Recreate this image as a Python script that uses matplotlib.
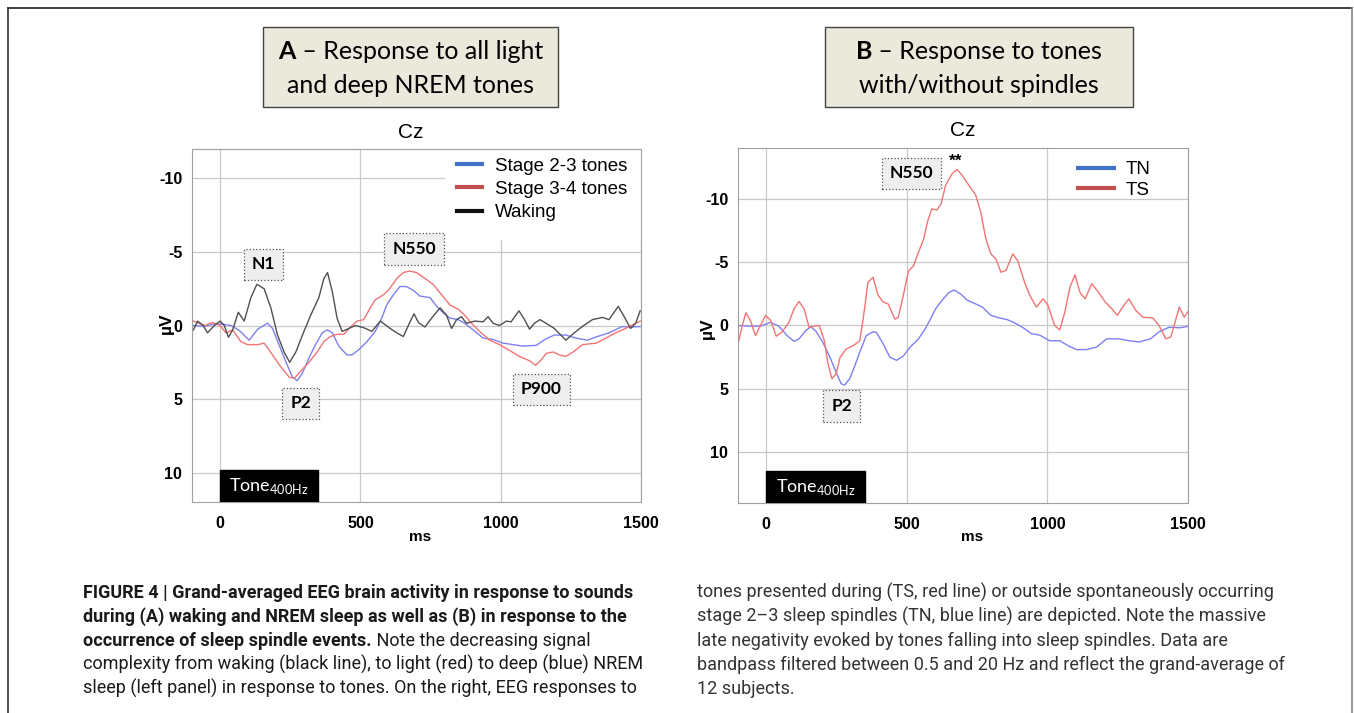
import matplotlib
matplotlib.use("Agg")
import matplotlib.pyplot as plt
from matplotlib.patches import Rectangle
from matplotlib.lines import Line2D

# ---- data (ms, µV) ----
tone_on, tone_off = 0, 350

wake_t = [-95, -80, -60, -45, -20, 0, 15, 30, 45, 65, 86, 110, 131, 157, 181, 204, 228, 248, 270, 299,
          323, 352, 370, 383, 400, 417, 435, 459, 482, 512, 541, 571, 606, 630, 653, 671, 691, 707, 730, 754,
          784, 807, 825, 843, 860, 878, 908, 937, 955, 973, 996, 1020, 1037, 1065, 1085, 1103, 1120, 1140,
          1162, 1191, 1232, 1262, 1292, 1327, 1363, 1386, 1419, 1440, 1463, 1481, 1497]
wake_v = [0.3, -0.3, 0, 0.5, 0, -0.3, 0, 0.8, 0.3, -0.9, -0.3, -1.9, -2.8, -2.5, -1.2, 0.6, 1.8, 2.5, 1.8, 0.4,
          -0.7, -1.9, -3.2, -3.6, -2.3, -0.5, 0.4, 0.2, 0, 0.15, 0.4, -0.3, 0.2, 0.5, 0.75, 0, -0.8, -0.2, 0.1, -0.5,
          -1.2, -0.7, 0.2, -0.4, -0.6, -0.15, -0.3, -0.25, -0.6, -0.15, 0, -0.3, -0.25, -1.0, -0.4, 0.25, -0.15, -0.4,
          -0.15, 0.2, 1.0, 0.5, 0.05, -0.4, -0.55, -0.4, -1.3, -0.6, 0.2, -0.15, -1.0]

s34_t = [-95, -55, -26, 0, 21, 45, 74, 98, 134, 157, 187, 216, 246, 264, 287, 317, 346, 370, 393, 417,
         441, 465, 488, 512, 535, 553, 583, 600, 630, 653, 676, 700, 730, 759, 789, 819, 849, 872, 896, 925,
         961, 996, 1032, 1067, 1103, 1124, 1144, 1162, 1186, 1210, 1232, 1262, 1292, 1340, 1375, 1410, 1445,
         1481, 1497]
s34_v = [-0.3, 0, -0.2, 0, 0.5, 0.3, 1.1, 1.3, 1.3, 1.2, 2.0, 2.8, 3.5, 3.6, 3.1, 2.5, 1.8, 1.1, 0.75, 0.6,
         0.6, 0.1, -0.3, -0.4, -1.2, -1.75, -2.1, -2.4, -3.2, -3.6, -3.7, -3.6, -3.2, -2.8, -2.1, -1.4, -1.1, -0.7,
         -0.15, 0.4, 1.0, 1.3, 1.7, 2.1, 2.4, 2.7, 2.35, 1.9, 1.8, 2.0, 2.1, 1.75, 1.3, 1.2, 0.85, 0.5, 0.2,
         -0.15, -0.3]

s23_t = [-95, -55, -20, 4, 39, 69, 104, 134, 169, 187, 210, 234, 258, 275, 293, 317, 340, 364, 382, 400,
         423, 452, 470, 494, 523, 553, 576, 594, 618, 641, 664, 688, 712, 748, 772, 796, 819, 849, 872, 902,
         937, 973, 1008, 1044, 1079, 1127, 1157, 1191, 1232, 1268, 1309, 1344, 1386, 1433, 1469, 1497]
s23_v = [0, 0.05, -0.1, -0.1, 0, 0.35, 1.0, 0.25, -0.15, 0.2, 1.3, 2.45, 3.5, 3.75, 3.25, 2.2, 1.3, 0.5, 0.3, 0.5,
         1.4, 2.0, 2.0, 1.65, 1.1, 0.4, -0.5, -1.4, -2.1, -2.65, -2.65, -2.4, -2.0, -1.9, -1.3, -0.85, -0.5, -0.4,
         -0.15, 0.3, 0.85, 0.95, 1.2, 1.3, 1.4, 1.35, 0.95, 0.65, 0.65, 0.85, 1.0, 0.75, 0.5, 0.07, 0.1, 0.07]

tn_t = [-100, -62, -20, 16, 45, 75, 99, 117, 141, 159, 177, 201, 225, 249, 267, 279, 297, 315, 333, 356,
        380, 392, 416, 440, 464, 488, 512, 542, 566, 584, 602, 626, 650, 668, 691, 715, 745, 769, 799, 829,
        859, 889, 919, 943, 972, 1008, 1044, 1074, 1104, 1139, 1175, 1211, 1254, 1290, 1325, 1367, 1397,
        1433, 1469, 1500]
tn_v = [0, 0.05, 0.05, -0.25, 0.05, 0.8, 1.25, 1.05, 0.4, 0.1, 0.45, 1.3, 2.4, 3.7, 4.6, 4.7, 4.2, 3.2, 2.1, 0.8,
        0.5, 0.55, 1.45, 2.5, 2.75, 2.4, 1.7, 1.05, 0.25, -0.5, -1.3, -2.0, -2.6, -2.8, -2.5, -2.0, -1.7, -1.45,
        -0.8, -0.6, -0.45, -0.15, 0.25, 0.65, 0.75, 1.2, 1.2, 1.6, 1.9, 1.9, 1.7, 1.05, 1.05, 1.2, 1.3, 1.05,
        0.5, 0.13, 0.18, 0.08]

ts_t = [-100, -86, -72, -56, -38, -20, -2, 16, 36, 57, 81, 99, 117, 135, 153, 171, 189, 207, 219, 234,
        249, 263, 285, 309, 333, 345, 362, 380, 398, 416, 434, 458, 470, 488, 506, 524, 542, 560, 574, 589,
        607, 622, 638, 662, 679, 697, 721, 745, 763, 781, 799, 817, 835, 853, 877, 895, 919, 937, 961, 985,
        1002, 1026, 1044, 1062, 1080, 1098, 1116, 1134, 1158, 1182, 1206, 1230, 1249, 1267, 1290, 1314, 1339,
        1375, 1397, 1421, 1439, 1457, 1469, 1487, 1500]
ts_v = [1.5, 0.1, -1.0, -0.4, 0.8, 0, -0.8, -0.4, 0.85, 0.5, -0.25, -1.3, -1.9, -1.3, 0.15, 0.05, 0, 1.2, 2.9, 4.2,
        3.8, 2.5, 1.85, 1.6, 1.2, -0.5, -3.4, -3.8, -2.4, -1.85, -1.7, -0.5, -0.65, -2.4, -4.3, -4.7, -5.8, -6.8,
        -8.2, -9.2, -9.1, -9.6, -11.05, -12.0, -12.3, -11.85, -11.05, -10.3, -8.95, -6.85, -5.65, -5.25, -4.2,
        -4.35, -5.65, -5.1, -3.4, -2.4, -1.45, -2.1, -1.6, 0, 0.35, -1.05, -3.0, -4.0, -2.6, -2.1, -3.3, -2.6,
        -1.85, -1.3, -0.8, -1.45, -2.1, -1.2, -0.65, -0.6, 0, 1.05, 0.9, -0.5, -1.45, -0.65, -1.1]

x_ticks = [0, 500, 1000, 1500]
y_ticks = [-10, -5, 0, 5, 10]

plt.rcParams["font.family"] = ["Liberation Sans", "DejaVu Sans"]
plt.rcParams["axes.unicode_minus"] = False
plt.rcParams["mathtext.fontset"] = "custom"
plt.rcParams["mathtext.rm"] = "Lato"

W, H = 1354, 713
fig = plt.figure(figsize=(W / 100, H / 100), dpi=100)
renderer = fig.canvas.get_renderer()


def fx(px):
    return px / W


def fy(py):
    return 1 - py / H


def text_run(x_px, y_px, parts, ha="left", **kw):
    # draw bold/normal pieces one after the other on one baseline
    arts, widths = [], []
    for s, weight in parts:
        t = fig.text(0, fy(y_px), s, fontweight=weight, va="baseline", ha="left", **kw)
        arts.append(t)
        widths.append(t.get_window_extent(renderer).width)
    x = x_px - (sum(widths) / 2 if ha == "center" else 0)
    for t, w in zip(arts, widths):
        t.set_x(fx(x))
        x += w


def style(ax, lim):
    ax.set_xlim(-100, 1500)
    ax.set_ylim(lim, -lim)
    ax.set_xticks(x_ticks)
    ax.set_yticks(y_ticks)
    ax.grid(True, color="#c8c8c8", lw=0.9)
    ax.set_axisbelow(True)
    ax.tick_params(length=0, labelsize=11.5, pad=7)
    ax.tick_params(axis="x", pad=10)
    for lb in ax.get_xticklabels() + ax.get_yticklabels():
        lb.set_fontweight("bold")
    for sp in ax.spines.values():
        sp.set_color("#a0a0a0")


def tone_box(ax, y0, y1):
    ax.add_patch(Rectangle((tone_on, y0), tone_off - tone_on, y1 - y0, fc="black", ec="black", zorder=3))
    ax.text((tone_on + tone_off) / 2, (y0 + y1) / 2, r"Tone$_{\mathregular{400Hz}}$", color="white",
            fontsize=13, family="Lato", ha="center", va="center", zorder=4)


box_kw = dict(boxstyle="square,pad=0.45", fc="#eeeeee", ec="#555555", ls=":", lw=0.9)


def peak_label(ax, x, y, s):
    ax.text(x, y, s, fontsize=12.5, family="Lato", fontweight="bold", ha="center", va="center",
            bbox=box_kw, zorder=5)


# ---- panel A ----
axA = fig.add_axes([fx(192), fy(502), (641 - 192) / W, (502 - 149) / H])
style(axA, 12)
axA.plot(s23_t, s23_v, color="#7f7ff2", lw=1.0, zorder=2)
axA.plot(s34_t, s34_v, color="#f27474", lw=1.0, zorder=2)
axA.plot(wake_t, wake_v, color="#505050", lw=1.0, zorder=2)
axA.add_patch(Rectangle((0.5635, 0.742), 0.4365, 0.258, transform=axA.transAxes,
                        fc="white", ec="none", zorder=1.5))
hA = [Line2D([], [], color="#4472c4", lw=3), Line2D([], [], color="#c0504d", lw=3),
      Line2D([], [], color="#111111", lw=3)]
axA.legend(hA, ["Stage 2-3 tones", "Stage 3-4 tones", "Waking"], loc="upper left",
           bbox_to_anchor=(0.59, 0.976), frameon=False, fontsize=13.5, handlelength=1.35,
           handletextpad=0.7, labelspacing=0.33, borderpad=0, borderaxespad=0)
tone_box(axA, 9.8, 12)
peak_label(axA, 156, -4.15, "N1")
peak_label(axA, 691, -5.2, "N550")
peak_label(axA, 287, 5.3, "P2")
peak_label(axA, 1145, 4.35, "P900")
axA.text(-0.058, 0.507, "µV", transform=axA.transAxes, rotation=90, fontsize=12.5,
         fontweight="bold", ha="center", va="center")
axA.text(0.508, -0.099, "ms", transform=axA.transAxes, fontsize=11, fontweight="bold",
         ha="center", va="center")

# ---- panel B ----
axB = fig.add_axes([fx(738), fy(503), (1188 - 738) / W, (503 - 148) / H])
style(axB, 14)
axB.plot(tn_t, tn_v, color="#7f7ff2", lw=1.0, zorder=2)
axB.plot(ts_t, ts_v, color="#f27474", lw=1.0, zorder=2)
hB = [Line2D([], [], color="#4472c4", lw=3), Line2D([], [], color="#c0504d", lw=3)]
axB.legend(hB, ["TN", "TS"], loc="upper left", bbox_to_anchor=(0.756, 0.963), frameon=False,
           fontsize=13.5, handlelength=1.9, handletextpad=0.65, labelspacing=0.18,
           borderpad=0, borderaxespad=0)
tone_box(axB, 11.5, 14)
peak_label(axB, 518, -12.0, "N550")
peak_label(axB, 268, 6.35, "P2")
axB.text(675, -12.95, "**", fontsize=12.5, fontweight="bold", ha="center", va="center")
axB.text(-0.069, 0.493, "µV", transform=axB.transAxes, rotation=90, fontsize=12.5,
         fontweight="bold", ha="center", va="center")
axB.text(0.52, -0.096, "ms", transform=axB.transAxes, fontsize=11, fontweight="bold",
         ha="center", va="center")

# ---- headline boxes and Cz ----
for (x0, x1), lines in [((263, 558), [[("A", "bold"), (" – Response to all light", "normal")],
                                      [("and deep NREM tones", "normal")]]),
                        ((825, 1133), [[("B", "bold"), (" – Response to tones", "normal")],
                                       [("with/without spindles", "normal")]])]:
    fig.add_artist(Rectangle((fx(x0), fy(107)), (x1 - x0) / W, 80 / H, transform=fig.transFigure,
                             fc="#ebe8dc", ec="#444444", lw=1))
    for yy, parts in zip([59, 93], lines):
        text_run((x0 + x1) / 2, yy, parts, ha="center", fontsize=18, family="Lato")

fig.text(fx(411), fy(133), "Cz", fontsize=15, ha="center", va="center")
fig.text(fx(963), fy(130), "Cz", fontsize=15, ha="center", va="center")

# ---- frame ----
fig.add_artist(Line2D([fx(8), fx(1352)], [fy(7.5), fy(7.5)], transform=fig.transFigure, color="#333333", lw=1.3))
fig.add_artist(Line2D([fx(8), fx(8)], [fy(7.5), 0], transform=fig.transFigure, color="#333333", lw=1.2))
fig.add_artist(Line2D([fx(1352), fx(1352)], [fy(7.5), 0], transform=fig.transFigure, color="#888888", lw=1.2))

# ---- caption ----
B, N = "bold", "normal"
left_col = [
    [("FIGURE 4 | Grand-averaged EEG brain activity in response to sounds", B)],
    [("during (A) waking and NREM sleep as well as (B) in response to the", B)],
    [("occurrence of sleep spindle events.", B), (" Note the decreasing signal", N)],
    [("complexity from waking (black line), to light (red) to deep (blue) NREM", N)],
    [("sleep (left panel) in response to tones. On the right, EEG responses to", N)],
]
right_col = [
    [("tones presented during (TS, red line) or outside spontaneously occurring", N)],
    [("stage 2–3 sleep spindles (TN, blue line) are depicted. Note the massive", N)],
    [("late negativity evoked by tones falling into sleep spindles. Data are", N)],
    [("bandpass filtered between 0.5 and 20 Hz and reflect the grand-average of", N)],
    [("12 subjects.", N)],
]
for i, parts in enumerate(left_col):
    text_run(83, 598 + 24 * i, parts, fontsize=13, family="Roboto", color="#1a1a1a")
for i, parts in enumerate(right_col):
    text_run(697, 598 + 24 * i, parts, fontsize=13, family="Roboto", color="#333333")

fig.savefig("out.png", dpi=100)
